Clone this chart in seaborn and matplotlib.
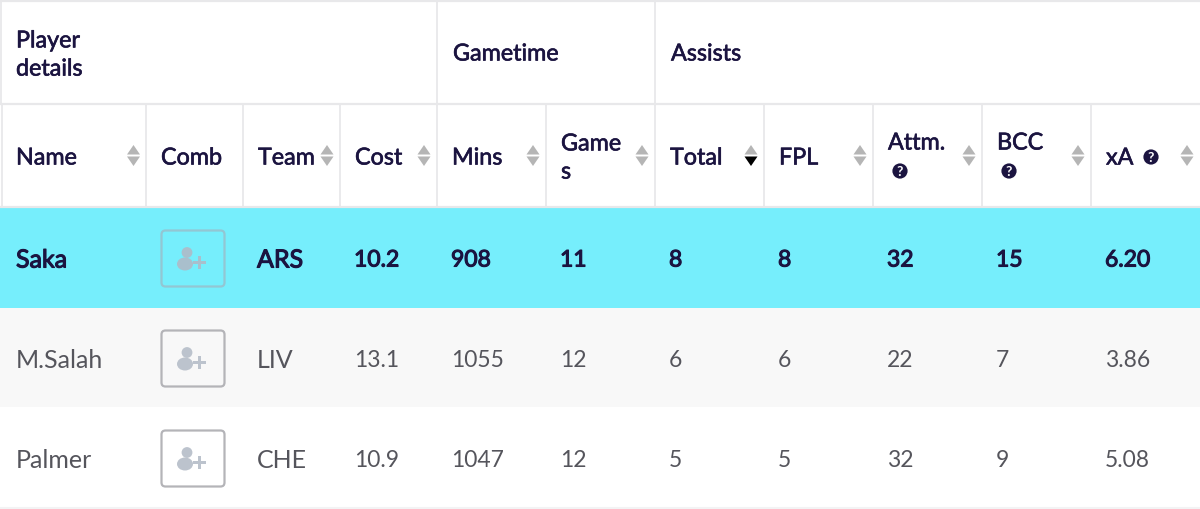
import numpy as np
import pandas as pd
import seaborn as sns
import matplotlib
matplotlib.use('Agg')
import matplotlib.pyplot as plt
import matplotlib.patheffects as pe
from matplotlib.colors import ListedColormap
from matplotlib.patches import Polygon, Circle, FancyBboxPatch, Ellipse, Rectangle

# ================= DATA =================
names = ['Saka', 'M.Salah', 'Palmer']
teams = ['ARS', 'LIV', 'CHE']
costs = ['10.2', '13.1', '10.9']
mins = ['908', '1055', '1047']
games = ['11', '12', '12']
total = ['8', '6', '5']
fpl = ['8', '6', '5']
attm = ['32', '22', '32']
bcc = ['15', '7', '9']
xa = ['6.20', '3.86', '5.08']

group_labels = ['Player\ndetails', 'Gametime', 'Assists']
col_labels = ['Name', 'Comb', 'Team', 'Cost', 'Mins', 'Game\ns', 'Total', 'FPL', 'Attm.', 'BCC', 'xA']

# row shading: 0 highlighted, 1 grey, 2 white
row_class = [0, 1, 2]
# ========================================

INK = '#1b1440'
GREY_TXT = '#55555c'
LINE = '#e8e8ea'
ARROW = '#b5b5b5'

col_edges = [2, 146, 243, 340, 437, 546, 655, 764, 873, 982, 1091, 1200]
font = 'Lato'

sns.set_theme(style='white')
plt.rcParams['font.family'] = [font, 'DejaVu Sans']

fig = plt.figure(figsize=(12, 5.1), dpi=100)

# row backgrounds come from a heatmap, one cell per table cell
body = fig.add_axes([0, (510 - 508) / 510, 1, 299 / 510])
shade = pd.DataFrame(np.tile(np.array(row_class)[:, None], (1, len(col_labels))))
sns.heatmap(shade, ax=body, cbar=False, vmin=0, vmax=2,
            cmap=ListedColormap(['#76eefc', '#f8f8f8', '#ffffff']),
            xticklabels=False, yticklabels=False)

# overlay in pixel coords
ax = fig.add_axes([0, 0, 1, 1])
ax.set_xlim(0, 1200)
ax.set_ylim(510, 0)
ax.axis('off')
ax.patch.set_alpha(0)

HEAD = 16.8
BODY = 18
NUM = 16.5  # digits run wider in Lato than in the original font
# Lato has no medium weight here, so thicken the regular one a little
medium = [pe.withStroke(linewidth=0.45, foreground=INK)]
semibold = [pe.withStroke(linewidth=0.8, foreground=INK)]


def head_text(x, y, s):
    ax.text(x, y, s, color=INK, fontsize=HEAD, va='center', linespacing=1.42, path_effects=medium)


def sort_arrows(x, y, active=False):
    ax.add_patch(Polygon([(x - 6.5, y - 1), (x + 6.5, y - 1), (x, y - 10.5)], color=ARROW, lw=0))
    ax.add_patch(Polygon([(x - 6.5, y + 1), (x + 6.5, y + 1), (x, y + 10.5)],
                         color='#000000' if active else ARROW, lw=0))


def help_icon(x, y):
    ax.add_patch(Circle((x, y), 7.6, color=INK, lw=0))
    ax.text(x, y + 0.5, '?', color='white', fontsize=10, fontweight='bold', ha='center', va='center')


def add_button(x, y, edge, icon):
    ax.add_patch(FancyBboxPatch((x - 31.5, y - 28), 63, 56, boxstyle='round,pad=0,rounding_size=4',
                                fc='none', ec=edge, lw=1.6))
    ax.add_patch(Circle((x - 6, y - 6), 5.4, color=icon, lw=0))
    ax.add_patch(Ellipse((x - 8, y + 5.5), 16, 13, color=icon, lw=0))
    ax.add_patch(Rectangle((x - 0.5, y + 2.5), 13, 3, color=icon, lw=0))
    ax.add_patch(Rectangle((x + 4.5, y - 2.5), 3, 13, color=icon, lw=0))


# grid lines
for y in [2, 105, 208]:
    ax.plot([0, 1200], [y, y], color=LINE, lw=1.6, solid_capstyle='butt')
ax.plot([0, 1200], [508.5, 508.5], color='#f3f3f4', lw=1.5)
for x in [1, 437, 655]:
    ax.plot([x, x], [2, 105], color=LINE, lw=1.3)
for x in col_edges[:-1]:
    ax.plot([x, x], [105, 208], color=LINE, lw=1.3)

# group header
head_text(16, 56, group_labels[0])
head_text(453, 55, group_labels[1])
head_text(671, 55, group_labels[2])

# column header
head_y = 159
for i, lab in enumerate(col_labels):
    x = col_edges[i] + 15 if i else 16
    if lab in ('Attm.', 'BCC'):
        head_text(x, 144, lab)
        help_icon(x + 12, 172)
    else:
        head_text(x, head_y, lab)
    if lab == 'xA':
        help_icon(1151, 158)
    if lab != 'Comb':
        arrow_x = {'Name': 133.5, 'Team': 327, 'Cost': 424}.get(lab, col_edges[i + 1] - 13)
        sort_arrows(arrow_x, 156.5, active=lab == 'Total')

# body rows
row_y = [261, 361, 461]
columns = [names, None, teams, costs, mins, games, total, fpl, attm, bcc, xa]
for r, y in enumerate(row_y):
    top = r == 0
    color = INK if top else GREY_TXT
    effects = semibold if top else None
    for i, vals in enumerate(columns):
        if vals is None:
            add_button(193, y - 1.5, '#93c6d3' if top else '#b4b4b8', '#a9bfcc' if top else '#bcc3cd')
            continue
        x = col_edges[i] + 14 if i else 16
        size = BODY if i in (0, 2) else NUM
        ax.text(x, y, vals[r], color=color, fontsize=size, va='center', path_effects=effects)

fig.savefig('out.png', dpi=100)
